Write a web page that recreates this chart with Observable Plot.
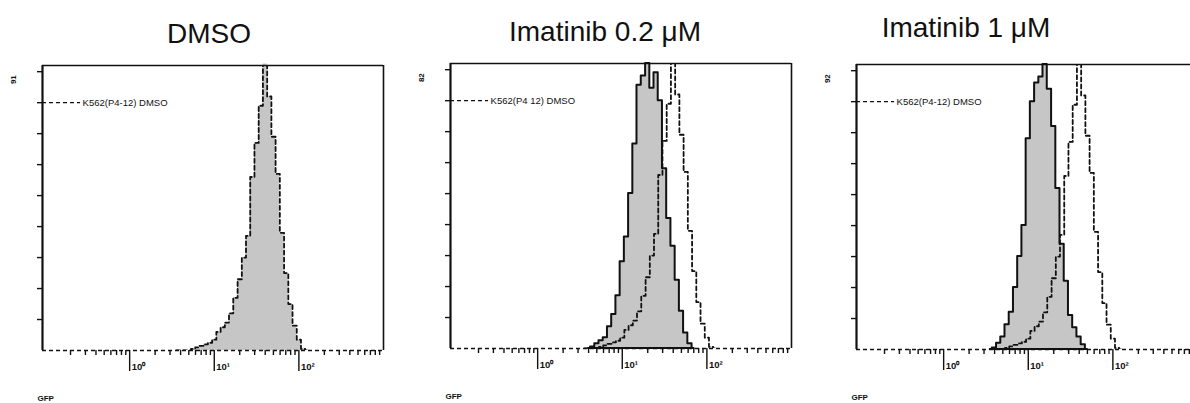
<!DOCTYPE html>
<html><head><meta charset="utf-8">
<script src="https://cdn.jsdelivr.net/npm/d3@7"></script>
<script src="https://cdn.jsdelivr.net/npm/@observablehq/plot@0.6"></script>
<style>
html,body{margin:0;padding:0;background:#fff}
body{width:1190px;height:403px;overflow:hidden;position:relative;font-family:"Liberation Sans",Arial,sans-serif}
.title{position:absolute;font-size:28px;line-height:28px;white-space:nowrap;transform:translateX(-50%);color:#111}
.panel{position:absolute}
.panel svg{max-width:none !important}
</style></head><body>
<script>
// ---- data ----
const titles = ["DMSO", "Imatinib 0.2 μM", "Imatinib 1 μM"];
const yMaxLabels = ["91", "82", "92"];
const legendLabels = ["K562(P4-12) DMSO", "K562(P4 12) DMSO", "K562(P4-12) DMSO"];
const xAxisLabel = "GFP";
const majorTicks = [1, 10, 100];
const majorTickLabels = ["10⁰", "10¹", "10²"];
const minorTicks = [0.2,0.3,0.4,0.5,0.6,0.7,0.8,0.9, 2,3,4,5,6,7,8,9, 20,30,40,50,60,70,80,90, 200,300,400,500,600,700,800,900];
const yTicks = [10,20,30,40,50,60,70,80,90];
// GFP bin centres (log-spaced channels)
const gfp = [3.55,3.98,4.47,5.01,5.62,6.31,7.08,7.94,8.91,10,11.2,12.6,14.1,15.8,17.8,20.0,22.4,25.1,28.2,31.6,35.5,39.8,44.7,50.1,56.2,63.1,70.8,79.4,89.1,100,112,126];
// counts per bin
const dmso  = [0,0,0,0,0.5,1,1.5,2,2.5,3.5,6,7.5,9,12,17,23,30,37,56,67,79,92.5,82,69,57,38,25,15,8,3.5,0.5,0];
const ima02 = [0,0,0.5,1.5,2.5,3.5,7,11,17,28,36,50,66,85,88,92,84,89,80,58,42,33,22,12,5,1.5,0,0,0,0,0,0];
const ima1  = [0,0.5,2,4,8,12,20,30,40,68,80,86,88,92,84,72,52,34,22,11,7,4,1.5,0,0,0,0,0,0,0,0,0];
const sampleCounts = [dmso, ima02, ima1];

// ---- layout ----
const layout = [
  {left: 0,   top: 55, ml: 42, title: {cx: 209, top: 19.5}},
  {left: 400, top: 53, ml: 50, title: {cx: 605, top: 18}},
  {left: 800, top: 54, ml: 56, title: {cx: 966, top: 13.5}}
];
const xLo = Math.pow(10, -1.03), xHi = 1000, yTop = 92;
const font = "'Liberation Sans', Arial, sans-serif";

titles.forEach((t, i) => {
  const d = document.createElement("div");
  d.className = "title";
  d.textContent = t;
  d.style.left = layout[i].title.cx + "px";
  d.style.top = layout[i].title.top + "px";
  document.body.appendChild(d);
});

function panel(i) {
  const counts = sampleCounts[i];
  const rows = gfp.map((g, j) => ({g, c: counts[j], d: dmso[j]}));
  const filled = rows.filter((r, j) => r.c > 0 || (counts[j-1] > 0) || (counts[j+1] > 0));
  const legendEnd = xLo * Math.pow(10, 0.45);
  const frameW = 341;
  const w = layout[i].ml + frameW + 12;
  return Plot.plot({
    width: w,
    height: 348,
    marginLeft: layout[i].ml,
    marginRight: 12,
    marginTop: 10,
    marginBottom: 53,
    x: {type: "log", domain: [xLo, xHi]},
    y: {domain: [0, yTop]},
    style: {background: "transparent", overflow: "visible", fontFamily: font, color: "#111", maxWidth: "none", width: w + "px"},
    marks: [
      Plot.areaY(filled, {x: "g", y: "c", curve: "step", fill: "#c6c6c6",
        stroke: i === 0 ? "none" : "#111", strokeWidth: 2}),
      Plot.lineY(rows, {x: "g", y: "d", curve: "step", stroke: "#111", strokeWidth: 1.8,
        strokeDasharray: "4,3", clip: true}),
      Plot.ruleY([0], {stroke: "#111", strokeWidth: 1.5, strokeDasharray: "4,3"}),
      Plot.ruleX([xLo], {stroke: "#111", strokeWidth: 2.2}),
      Plot.ruleX([xHi], {stroke: "#111", strokeWidth: 1.6}),
      Plot.ruleY([yTop], {stroke: "#111", strokeWidth: 1.6}),
      Plot.axisY({ticks: yTicks, tickSize: 5, tickFormat: () => "", label: null, strokeWidth: 1.4}),
      Plot.axisX({ticks: minorTicks, tickSize: 5, tickFormat: () => "", label: null, strokeWidth: 1.4}),
      Plot.axisX({ticks: majorTicks, tickSize: 21, tickFormat: () => "", label: null, strokeWidth: 1.4}),
      Plot.text(majorTicks, {x: d => d, text: (d, k) => majorTickLabels[k], frameAnchor: "bottom",
        textAnchor: "start", dx: 2, dy: 19, fontSize: 9.5, fontWeight: "bold"}),
      Plot.text([yMaxLabels[i]], {frameAnchor: "left", y: 86, dx: -29, rotate: -90,
        fontSize: 8, fontWeight: "bold"}),
      Plot.ruleY([80], {x1: xLo, x2: legendEnd, stroke: "#111", strokeWidth: 1.2, strokeDasharray: "4,3"}),
      Plot.text([legendLabels[i]], {x: legendEnd, y: 80, dx: 2, textAnchor: "start", fontSize: 9.5}),
      Plot.text([xAxisLabel], {frameAnchor: "bottom-left", dx: -5, dy: 50, textAnchor: "start",
        fontSize: 8, fontWeight: "bold"})
    ]
  });
}

[0, 1, 2].forEach(i => {
  const wrap = document.createElement("div");
  wrap.className = "panel";
  wrap.style.left = layout[i].left + "px";
  wrap.style.top = layout[i].top + "px";
  wrap.style.width = (layout[i].ml + 341 + 12) + "px";
  wrap.appendChild(panel(i));
  document.body.appendChild(wrap);
});
</script>
</body></html>
